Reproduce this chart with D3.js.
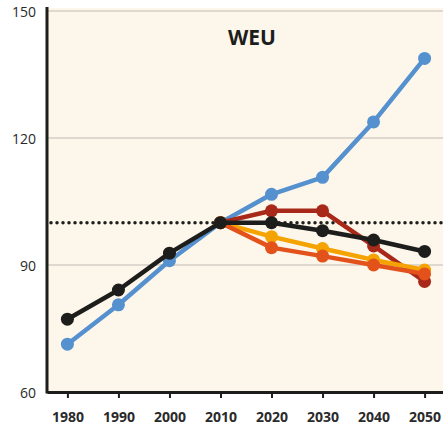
<!DOCTYPE html>
<html>
<head>
<meta charset="utf-8">
<script src="https://cdn.jsdelivr.net/npm/d3@7"></script>
<style>
  body { margin: 0; background: #fff; }
  svg { display: block; font-family: "Open Sans", sans-serif; }
</style>
</head>
<body>
<svg id="chart" width="443" height="430"></svg>
<script>
// chart data
const years = [1980, 1990, 2000, 2010, 2020, 2030, 2040, 2050];
const yTicks = [60, 90, 120, 150];
const title = "WEU";
const refValue = 100;

const blueValues = [71.3, 80.6, 91.0, 100, 106.7, 110.7, 123.8, 138.8];
const blackValues = [77.2, 84.1, 92.8, 100, 100.0, 98.1, 95.9, 93.2];
const darkRedYears = [2010, 2020, 2030, 2040, 2050];
const darkRedValues = [100, 102.8, 102.8, 94.5, 86.1];
const yellowYears = [2010, 2020, 2030, 2040, 2050];
const yellowValues = [100, 96.7, 93.9, 91.2, 88.8];
const orangeYears = [2010, 2020, 2030, 2040, 2050];
const orangeValues = [100, 94.1, 92.1, 90.0, 87.9];

const series = [
  { name: "blue", color: "#5591cf", years: years, values: blueValues },
  { name: "darkred", color: "#a8291a", years: darkRedYears, values: darkRedValues },
  { name: "yellow", color: "#f5a300", years: yellowYears, values: yellowValues },
  { name: "orange", color: "#e2521a", years: orangeYears, values: orangeValues },
  { name: "black", color: "#1d1d1b", years: years, values: blackValues }
];

const svg = d3.select("#chart");
const plotLeft = 47, plotRight = 445, plotTop = 8, plotBottom = 392;

const x = d3.scaleLinear().domain([1976, 2054]).range([plotLeft, plotRight]);
const y = d3.scaleLinear().domain([60, 150]).range([plotBottom, 11]);

// background
svg.append("rect")
  .attr("x", plotLeft).attr("y", plotTop)
  .attr("width", 443 - plotLeft).attr("height", plotBottom - plotTop)
  .attr("fill", "#fdf6ea");

// gridlines
svg.append("g")
  .selectAll("line")
  .data(yTicks.filter(d => d > 60))
  .join("line")
  .attr("x1", plotLeft).attr("x2", 443)
  .attr("y1", d => y(d)).attr("y2", d => y(d))
  .attr("stroke", "#d3cec7")
  .attr("stroke-width", 1.5);

// dotted reference line
svg.append("line")
  .attr("x1", plotLeft + 4).attr("x2", 443)
  .attr("y1", y(refValue)).attr("y2", y(refValue))
  .attr("stroke", "#1d1d1b")
  .attr("stroke-width", 3.5)
  .attr("stroke-linecap", "round")
  .attr("stroke-dasharray", "0,6");

// title
svg.append("text")
  .attr("x", 252).attr("y", 45)
  .attr("text-anchor", "middle")
  .attr("font-size", 21)
  .attr("font-weight", "bold")
  .attr("fill", "#1d1d1b")
  .text(title);

// series
const line = d3.line().x(d => x(d[0])).y(d => y(d[1]));
series.forEach(s => {
  const pts = s.years.map((yr, i) => [yr, s.values[i]]);
  const g = svg.append("g");
  g.append("path")
    .datum(pts)
    .attr("d", line)
    .attr("fill", "none")
    .attr("stroke", s.color)
    .attr("stroke-width", 4.5)
    .attr("stroke-linejoin", "round");
  g.selectAll("circle")
    .data(pts)
    .join("circle")
    .attr("cx", d => x(d[0]))
    .attr("cy", d => y(d[1]))
    .attr("r", 6.5)
    .attr("fill", s.color);
});

// x axis
const xAxis = svg.append("g")
  .attr("transform", "translate(0," + plotBottom + ")")
  .call(d3.axisBottom(x)
    .tickValues(years)
    .tickFormat(d3.format("d"))
    .tickSizeInner(6)
    .tickSizeOuter(0)
    .tickPadding(14));
xAxis.select(".domain").attr("stroke", "#1d1d1b").attr("stroke-width", 3);
xAxis.selectAll(".tick line").attr("stroke", "#1d1d1b").attr("stroke-width", 2);
xAxis.selectAll(".tick text")
  .attr("font-size", 14)
  .attr("font-weight", "bold")
  .attr("fill", "#2a2a2a")
  .attr("font-family", "'Open Sans', sans-serif");

// y axis
const yAxis = svg.append("g")
  .attr("transform", "translate(" + plotLeft + ",0)")
  .call(d3.axisLeft(y)
    .tickValues(yTicks)
    .tickSize(0)
    .tickPadding(11));
yAxis.select(".domain").attr("d", "M0," + (plotTop - 1) + "V" + (plotBottom + 1.5))
  .attr("stroke", "#1d1d1b").attr("stroke-width", 3);
yAxis.selectAll(".tick text")
  .attr("font-size", 14)
  .attr("fill", "#2a2a2a")
  .attr("dy", "0.4em")
  .attr("font-family", "'Open Sans', sans-serif");
</script>
</body>
</html>
